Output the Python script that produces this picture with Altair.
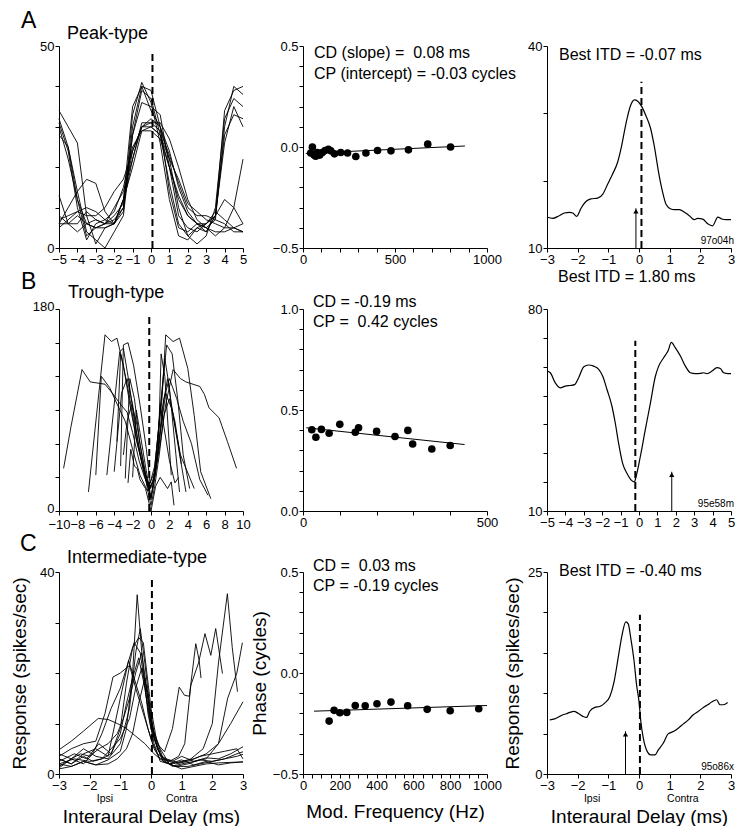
import altair as alt
import pandas as pd

FONT = "Liberation Sans"
W = 184
H = 202

# ---------------- Panel A : peak-type ----------------
A_LEFT_X = [-5.0, -4.5, -4.0, -3.5, -3.0, -2.5, -2.0, -1.5, -1.0, -0.5, 0.0,
            0.5, 1.0, 1.5, 2.0, 2.5, 3.0, 3.5, 4.0, 4.5, 5.0]
A_LEFT_CURVES = [
    [32, 25, 12, 3, 5, 6, 7, 10, 30, 40, 39, 30, 14, 5, 4, 6, 5, 7, 30, 40, 38],
    [31, 24, 10, 2, 6, 7, 6, 9, 33, 41, 36, 26, 12, 3, 2, 5, 6, 8, 34, 39, 40],
    [34, 30, 26, 8, 1, 5, 6, 12, 35, 40, 34, 30, 22, 10, 3, 1, 3, 10, 32, 37, 35],
    [28, 25, 14, 4, 2, 0, 4, 8, 28, 39, 37, 28, 16, 6, 3, 5, 4, 8, 28, 33, 32],
    [30, 22, 12, 6, 5, 6, 6, 10, 28, 36, 35, 33, 20, 8, 5, 4, 6, 8, 26, 35, 30],
    [7, 8, 9, 8, 8, 10, 14, 17, 24, 30, 30, 28, 22, 17, 11, 9, 7, 6, 5, 5, 6],
    [6, 6, 6, 9, 7, 6, 10, 14, 22, 31, 31, 29, 23, 16, 10, 8, 8, 7, 6, 4, 4],
    [8, 6, 8, 6, 5, 5, 6, 12, 24, 30, 32, 30, 24, 15, 9, 6, 6, 9, 7, 5, 4],
    [5, 7, 9, 10, 9, 7, 9, 15, 25, 29, 29, 27, 20, 13, 8, 6, 4, 8, 12, 10, 6],
    [13, 6, 4, 6, 7, 6, 8, 11, 22, 30, 31, 31, 27, 20, 12, 7, 5, 3, 5, 10, 22],
    [6, 10, 14, 17, 16, 9, 6, 12, 20, 29, 30, 28, 20, 12, 8, 6, 5, 4, 4, 5, 4],
]
A_MID_FREQ = [42, 51, 60, 69, 78, 91, 105, 120, 138, 151, 171, 205, 242, 287,
              342, 405, 478, 573, 678, 802]
A_MID_PHASE = [-0.03, 0.0, -0.04, -0.046, -0.027, -0.04, -0.027, -0.017, -0.011,
               -0.019, -0.034, -0.027, -0.03, -0.047, -0.03, -0.017, -0.019,
               -0.014, 0.014, 0.0]
A_FIT_FREQ = [15, 880]
A_FIT_PHASE = [-0.032, 0.005]
A_RIGHT_X = [-3.0, -2.82, -2.6, -2.43, -2.27, -2.16, -2.03, -1.89, -1.73, -1.57,
             -1.35, -1.18, -1.02, -0.86, -0.7, -0.57, -0.42, -0.28, -0.15, -0.04,
             0.09, 0.23, 0.37, 0.5, 0.64, 0.77, 0.88, 1.04, 1.15, 1.32, 1.48,
             1.64, 1.8, 1.91, 2.08, 2.24, 2.4, 2.57, 2.7, 2.84, 3.0]
A_RIGHT_Y = [14.6, 14.4, 14.8, 15.2, 15.3, 15.2, 14.7, 15.9, 16.9, 17.3, 17.4,
             18.0, 19.5, 21.0, 22.7, 25.1, 28.6, 31.1, 32.0, 31.8, 31.0, 29.6,
             27.9, 25.1, 21.2, 18.3, 16.5, 15.8, 15.7, 15.7, 15.3, 14.8, 14.2,
             14.4, 14.3, 13.6, 13.3, 14.6, 14.3, 14.2, 14.2]
A_CD = 0.08
A_BEST = -0.1

# ---------------- Panel B : trough-type ----------------
B_LEFT_X = [
    [-9.5, -8.7, -7.5, -6.6, -5.0, -4.2, -3.4, -2.6, -2.0, -1.3, -0.7, -0.1, 0.4,
     1.0, 1.6, 2.4, 3.2, 3.8, 5.3, 5.8, 6.3, 7.4, 8.3, 9.3],
    [-6.8, -5.0, -4.3, -3.7, -3.0, -2.3, -1.5, -0.8, -0.2, 0.4, 1.2, 1.6, 2.4,
     3.1, 4.0, 4.7, 5.4, 6.5],
    [-6.0, -5.4, -4.5, -3.5, -2.8, -2.0, -1.2, -0.4, 0.2, 0.9, 1.4, 2.0, 2.8,
     3.5, 4.4, 5.3, 6.2],
    [-4.8, -3.4, -3.0, -2.4, -1.8, -1.0, -0.3, 0.2, 0.8, 1.1, 1.5, 2.2],
    [-3.7, -3.3, -2.9, -2.3, -1.6, -0.8, -0.2, 0.3, 0.9, 1.5, 2.0, 3.1],
    [-4.0, -3.2, -2.6, -2.0, -1.4, -0.6, 0.0, 0.6, 1.2, 1.8, 2.5, 3.8],
    [-2.8, -2.3, -1.8, -1.2, -0.5, 0.0, 0.5, 1.0, 1.6, 2.3, 3.2, 4.7],
    [-3.0, -2.6, -2.1, -1.6, -1.0, -0.4, 0.0, 0.4, 0.9, 1.4, 2.0, 2.6, 3.3],
    [-2.5, -2.2, -1.8, -1.5, -1.2, -0.6, 0.0, 0.5, 1.0, 1.4, 1.8, 2.2, 2.5],
    [-2.0, -1.6, -1.2, -0.6, 0.0, 0.6, 1.0, 1.4, 2.0, 2.6, 3.0],
    [-3.3, -3.0, -2.5, -1.9, -1.2, -0.5, -0.1, 0.4, 1.0, 1.7, 2.3, 2.9, 3.5, 4.2],
]
B_LEFT_Y = [
    [38, 75, 126, 115, 113, 105, 96, 88, 70, 45, 30, 20, 30, 60, 95, 126, 118,
     115, 111, 104, 92, 83, 62, 38],
    [17, 157, 151, 154, 130, 95, 60, 38, 22, 40, 100, 157, 151, 154, 127, 85, 35, 11],
    [32, 120, 110, 92, 80, 55, 32, 18, 25, 60, 100, 118, 100, 80, 60, 28, 14],
    [32, 142, 145, 115, 80, 44, 25, 20, 55, 140, 120, 32],
    [62, 140, 125, 100, 65, 35, 18, 30, 80, 136, 110, 17],
    [35, 105, 118, 95, 60, 28, 12, 40, 90, 118, 80, 17],
    [29, 118, 100, 60, 30, 10, 35, 70, 105, 90, 50, 20],
    [50, 80, 95, 80, 50, 20, 5, 22, 50, 85, 100, 80, 42],
    [25, 55, 40, 38, 28, 20, 0, 22, 30, 25, 20, 26, 5],
    [30, 90, 70, 40, 12, 45, 95, 75, 45, 25, 30],
    [40, 148, 150, 130, 95, 55, 25, 35, 90, 148, 140, 100, 50, 20],
]
B_MID_FREQ = [24, 35, 50, 71, 100, 142, 151, 200, 250, 285, 298, 350, 400]
B_MID_PHASE = [0.402, 0.365, 0.404, 0.385, 0.429, 0.39, 0.412, 0.394, 0.369,
               0.399, 0.332, 0.307, 0.324]
B_FIT_FREQ = [9, 439]
B_FIT_PHASE = [0.412, 0.329]
B_RIGHT_X = [-5.0, -4.82, -4.55, -4.28, -4.0, -3.73, -3.5, -3.28, -3.0, -2.74,
             -2.46, -2.19, -1.97, -1.74, -1.47, -1.29, -1.11, -0.89, -0.65, -0.42,
             -0.25, -0.16, 0.07, 0.34, 0.62, 0.89, 1.07, 1.34, 1.58, 1.76, 1.97,
             2.25, 2.52, 2.79, 3.06, 3.33, 3.51, 3.7, 3.97, 4.24, 4.42, 4.6,
             4.84, 5.0]
B_RIGHT_Y = [58.5, 57.9, 54.4, 52.7, 53.3, 53.5, 53.8, 56.2, 60.0, 60.6, 60.2,
             59.1, 56.7, 52.1, 46.3, 40.5, 33.5, 26.5, 23.0, 20.7, 20.1, 21.9,
             28.8, 38.1, 47.4, 56.7, 60.2, 63.1, 65.5, 68.4, 66.6, 63.7, 60.2,
             57.9, 57.6, 57.7, 57.9, 57.6, 58.5, 59.7, 59.4, 57.9, 57.6, 57.6]
B_CD = -0.19
B_BEST = 1.78

# ---------------- Panel C : intermediate-type ----------------
C_LEFT_X = [
    [-3, -2.6, -2.2, -1.8, -1.4, -1.0, -0.8, -0.6, -0.45, -0.3, -0.1, 0.1, 0.3,
     0.6, 1.0, 1.4, 1.8, 2.2, 2.6, 3.0],
    [-3, -2.6, -2.2, -1.8, -1.4, -1.0, -0.7, -0.5, -0.35, -0.2, 0, 0.2, 0.4, 0.7,
     1.0, 1.4, 1.8, 2.2, 2.6, 3.0],
    [-3, -2.5, -2.1, -1.7, -1.3, -1.0, -0.8, -0.6, -0.4, -0.25, 0, 0.2, 0.44,
     0.7, 0.92, 1.09, 1.25, 1.46, 1.57, 1.63],
    [-3, -2.6, -2.2, -1.8, -1.4, -1.0, -0.73, -0.5, -0.3, -0.1, 0.1, 0.3, 0.6,
     0.9, 1.1, 1.3, 1.55, 1.76, 1.95, 2.11, 2.33],
    [-3, -2.6, -2.2, -1.8, -1.5, -1.24, -1.0, -0.7, -0.45, -0.2, 0.0, 0.2, 0.5,
     0.9, 1.3, 1.7, 2.0, 2.2, 2.49, 2.65, 2.82],
    [-3, -2.6, -2.2, -1.9, -1.6, -1.3, -1.0, -0.75, -0.55, -0.35, -0.15, 0.1,
     0.35, 0.7, 1.0, 1.4, 1.8, 2.2, 2.5, 2.8, 2.98],
    [-3, -2.5, -2, -1.6, -1.3, -1.0, -0.8, -0.6, -0.4, -0.2, 0, 0.3, 0.6, 1.0,
     1.4, 1.8, 2.2, 2.6, 3.0],
    [-3, -2.6, -2.2, -1.72, -1.4, -1.1, -0.8, -0.5, -0.2, 0.1, 0.4, 0.8, 1.2,
     1.6, 2.0, 2.4, 2.8, 3.0],
    [-3, -2.6, -2.3, -2.0, -1.7, -1.4, -1.1, -0.9, -0.7, -0.5, -0.3, -0.1, 0.1,
     0.4, 0.8, 1.2, 1.6, 2.0, 2.4, 2.8, 3.0],
    [-3, -2.6, -2.2, -1.9, -1.6, -1.3, -1.0, -0.7, -0.5, -0.3, -0.1, 0.1, 0.4,
     0.8, 1.2, 1.6, 2.0, 2.4, 2.8, 3.0],
    [-3, -2.6, -2.2, -1.8, -1.4, -1.1, -0.8, -0.6, -0.4, -0.2, 0, 0.3, 0.6, 1.0,
     1.4, 1.8, 2.2, 2.6, 3.0],
]
C_LEFT_Y = [
    [2, 1.5, 2.5, 1.8, 2.8, 4.5, 9, 20, 35.5, 24, 12, 6, 2.5, 2, 2.8, 1.8, 2.5,
     1.8, 2.2, 2.4],
    [4, 3, 5, 3.5, 3, 6, 13, 24, 28.8, 22, 11, 5, 3, 2.5, 3.5, 2.5, 3.2, 3, 4, 5.4],
    [2.5, 4, 3, 6, 4, 9, 18, 25, 27, 26, 13, 6, 4.4, 9, 17.2, 15.6, 15.4, 25.8,
     22.5, 19],
    [3, 2, 4, 5, 3.5, 15, 22.5, 18, 14, 9, 5, 3, 2.5, 3.5, 6, 17.6, 22, 27.8,
     23.5, 28.8, 19.9],
    [3.5, 5, 6, 6.5, 12, 19.2, 20, 21.5, 16, 11, 7, 4, 3, 2.2, 3, 5, 10, 22,
     35.7, 25, 16.3],
    [1.5, 3, 2, 4, 8, 13, 17, 22, 26, 24, 15, 7, 3, 1.5, 2, 2.5, 3, 6, 15, 20, 26],
    [2, 3, 2.5, 3, 4, 8, 14, 19, 23, 17, 9, 4, 2, 2.5, 3, 4, 6, 10, 14.3],
    [4.8, 6.5, 8.5, 11, 10.8, 10, 9, 7.5, 6, 4, 2.5, 1.5, 1.5, 2, 2.5, 3, 4, 4.4],
    [1.2, 3, 4, 3.5, 5, 6, 8, 11, 15, 20, 24, 15, 7, 2.5, 1.5, 2.0, 2.8, 2.5, 3,
     3.5, 3.9],
    [3, 2, 3.5, 2.5, 3, 5, 7, 11, 17, 21, 16, 8, 3, 2, 2.5, 3.5, 4, 4.5, 5, 3],
    [1, 1.5, 2.5, 1.8, 2, 3, 5, 8, 14, 19, 10, 5, 2, 1, 1.5, 2, 2.2, 2.3, 2.4],
]
C_MID_FREQ = [142, 169, 200, 238, 284, 338, 402, 478, 569, 675, 800, 955]
C_MID_PHASE = [-0.238, -0.185, -0.197, -0.195, -0.161, -0.162, -0.152, -0.144,
               -0.162, -0.18, -0.187, -0.177]
C_FIT_FREQ = [60, 1000]
C_FIT_PHASE = [-0.189, -0.161]
C_RIGHT_X = [-2.91, -2.75, -2.59, -2.48, -2.37, -2.26, -2.12, -1.99, -1.82, -1.71,
             -1.61, -1.44, -1.28, -1.12, -0.95, -0.81, -0.68, -0.55, -0.43, -0.35,
             -0.27, -0.16, -0.08, 0.0, 0.06, 0.14, 0.27, 0.38, 0.52, 0.63, 0.79,
             0.95, 1.12, 1.28, 1.44, 1.61, 1.77, 1.93, 2.1, 2.24, 2.37, 2.53,
             2.64, 2.75, 2.89]
C_RIGHT_Y = [6.7, 6.83, 7.12, 7.33, 7.45, 7.62, 7.74, 7.53, 7.12, 7.0, 7.74, 8.24,
             8.36, 8.77, 9.6, 11.47, 14.36, 17.26, 18.83, 18.58, 16.85, 13.95,
             11.05, 8.98, 6.5, 4.43, 2.77, 2.36, 2.36, 2.98, 3.81, 4.97, 5.26,
             5.67, 6.17, 6.7, 7.33, 7.74, 8.24, 8.57, 8.9, 9.19, 8.57, 8.57, 8.86]
C_CD = 0.03
C_BEST = -0.44

DUMMY = pd.DataFrame({"d": [0]})
NB = "\u00a0"


# ---------------- helpers ----------------
def lin(domain):
    return alt.Scale(domain=domain, nice=False, zero=False)


def steps(lo, hi, step):
    n = int(round((hi - lo) / step))
    return [round(lo + i * step, 4) for i in range(n + 1)]


def make_axis(values, expr=None, fmt=None, title=None, title_pad=None, **extra):
    kw = dict(values=values, title=title)
    if expr is not None:
        kw["labelExpr"] = expr
    if fmt is not None:
        kw["format"] = fmt
    if title_pad is not None:
        kw["titlePadding"] = title_pad
    kw.update(extra)
    return alt.Axis(**kw)


INT_EXPR = "datum.value % 1 == 0 ? datum.label : ''"


def ends_expr(vals):
    cond = " || ".join(f"datum.value == {v}" for v in vals)
    return f"{cond} ? datum.label : ''"


class Frame:
    """Shared scales and axes of one panel."""

    def __init__(self, xdom, ydom, xaxis, yaxis):
        self.xs = lin(xdom)
        self.ys = lin(ydom)
        self.xa = xaxis
        self.ya = yaxis

    def X(self, field="x"):
        return alt.X(f"{field}:Q", scale=self.xs, axis=self.xa)

    def Y(self, field="y"):
        return alt.Y(f"{field}:Q", scale=self.ys, axis=self.ya)


def spaghetti(f, xs_list, ys_list):
    rows = []
    for i, (xs, ys) in enumerate(zip(xs_list, ys_list)):
        for xv, yv in zip(xs, ys):
            rows.append({"x": xv, "y": yv, "id": i})
    df = pd.DataFrame(rows)
    return alt.Chart(df).mark_line(color="black", strokeWidth=0.9).encode(
        x=f.X(), y=f.Y(), detail="id:N")


def curve(f, xs, ys):
    df = pd.DataFrame({"x": xs, "y": ys})
    return alt.Chart(df).mark_line(color="black", strokeWidth=1.2,
                                   interpolate="monotone").encode(x=f.X(), y=f.Y())


def dashed(f, xv, lo, hi):
    df = pd.DataFrame({"x": [xv], "y": [lo], "y2": [hi]})
    return alt.Chart(df).mark_rule(color="black", strokeWidth=2,
                                   strokeDash=[7, 4]).encode(
        x=f.X(), y=f.Y(), y2=alt.Y2("y2"))


def arrow(f, xv, lo, hi):
    df = pd.DataFrame({"x": [xv], "y": [lo], "y2": [hi]})
    shaft = alt.Chart(df).mark_rule(color="black", strokeWidth=1).encode(
        x=f.X(), y=f.Y(), y2=alt.Y2("y2"))
    head = alt.Chart(df).mark_point(shape="triangle-up", filled=True, size=28,
                                    color="black", opacity=1, yOffset=3).encode(
        x=f.X(), y=f.Y("y2"))
    return [shaft, head]


def scatter(f, freq, phase, fit_f, fit_p):
    pts = alt.Chart(pd.DataFrame({"x": freq, "y": phase})).mark_circle(
        color="black", size=58, opacity=1).encode(x=f.X(), y=f.Y())
    fit = alt.Chart(pd.DataFrame({"x": fit_f, "y": fit_p})).mark_line(
        color="black", strokeWidth=1).encode(x=f.X(), y=f.Y())
    return [fit, pts]


def label(text, px, py, size, align="left", baseline="alphabetic"):
    return alt.Chart(DUMMY).mark_text(
        text=text, fontSize=size, font=FONT, align=align, baseline=baseline,
        color="black").encode(x=alt.value(px), y=alt.value(py))


def data_label(f, text, xv, py, size):
    return alt.Chart(pd.DataFrame({"x": [xv]})).mark_text(
        text=text, fontSize=size, font=FONT, align="center",
        baseline="alphabetic", color="black").encode(x=f.X(), y=alt.value(py))


def panel(layers):
    return alt.layer(*layers).properties(width=W, height=H)


PHASE_EXPR = ("abs(datum.value) == 0.5 || datum.value == 0 ? "
              "format(datum.value, '.1f') : ''")

# ---------------- row A ----------------
f = Frame([-5, 5], [0, 50], make_axis(steps(-5, 5, 1), fmt="d"),
          make_axis(steps(0, 50, 10), ends_expr([0, 50])))
a_left = panel([
    spaghetti(f, [A_LEFT_X] * len(A_LEFT_CURVES), A_LEFT_CURVES),
    dashed(f, A_CD, 0, 48),
    label("A", -38, -36, 23, baseline="top"),
    label("Peak-type", 8, -7, 18),
])

f = Frame([0, 1000], [-0.5, 0.5],
          make_axis(steps(0, 1000, 100),
                    "datum.value % 500 == 0 ? datum.label : ''", "d"),
          make_axis(steps(-0.5, 0.5, 0.1), PHASE_EXPR))
a_mid = panel(scatter(f, A_MID_FREQ, A_MID_PHASE, A_FIT_FREQ, A_FIT_PHASE) + [
    label(f"CD (slope) ={NB} 0.08 ms", 11, 12, 16),
    label("CP (intercept) = -0.03 cycles", 11, 33, 16),
])

f = Frame([-3, 3], [10, 40], make_axis(steps(-3, 3, 0.25), INT_EXPR, "d"),
          make_axis(steps(10, 40, 10), ends_expr([10, 40])))
a_right = panel([
    curve(f, A_RIGHT_X, A_RIGHT_Y),
    dashed(f, A_CD, 10, 34.7),
] + arrow(f, A_BEST, 10, 15.9) + [
    label("Best ITD = -0.07 ms", 12, 14, 16),
    label("97o04h", W + 3, H - 4, 10, align="right"),
])

# ---------------- row B ----------------
f = Frame([-10, 10], [0, 180],
          make_axis(steps(-10, 10, 2), fmt="d", labelPadding=3),
          make_axis(steps(0, 180, 30), ends_expr([0, 180]), labelOffset=-3))
b_left = panel([
    spaghetti(f, B_LEFT_X, B_LEFT_Y),
    dashed(f, B_CD, 0, 173.7),
    label("B", -38, -38, 23, baseline="top"),
    label("Trough-type", 9, -11, 18),
])

f = Frame([0, 500], [0, 1],
          make_axis(steps(0, 500, 100),
                    "datum.value % 500 == 0 ? datum.label : ''", "d"),
          make_axis(steps(0, 1, 0.1),
                    "datum.value == 0 || datum.value == 0.5 || datum.value == 1"
                    " ? format(datum.value, '.1f') : ''"))
b_mid = panel(scatter(f, B_MID_FREQ, B_MID_PHASE, B_FIT_FREQ, B_FIT_PHASE) + [
    label("CD = -0.19 ms", 10, -2, 16),
    label(f"CP ={NB} 0.42 cycles", 10, 18, 16),
])

f = Frame([-5, 5], [10, 80], make_axis(steps(-5, 5, 0.5), INT_EXPR, "d"),
          make_axis(steps(10, 80, 10), ends_expr([10, 80])))
b_right = panel([
    curve(f, B_RIGHT_X, B_RIGHT_Y),
    dashed(f, -0.2, 10, 69),
] + arrow(f, B_BEST, 10, 23.6) + [
    label("Best ITD = 1.80 ms", 11, -27, 16),
    label("95e58m", W + 3, H - 4, 10, align="right"),
])

# ---------------- row C ----------------
f = Frame([-3, 3], [0, 40],
          make_axis(steps(-3, 3, 0.25), INT_EXPR, "d",
                    title="Interaural Delay (ms)", title_pad=15),
          make_axis(steps(0, 40, 10), ends_expr([0, 40]),
                    title="Response (spikes/sec)", title_pad=10))
c_left = panel([
    spaghetti(f, C_LEFT_X, C_LEFT_Y),
    dashed(f, C_CD, 0, 38.6),
    label("C", -39, -39, 23, baseline="top"),
    label("Intermediate-type", 8, -9, 18),
    data_label(f, "Ipsi", -1.5, H + 28, 10.5),
    data_label(f, "Contra", 1.0, H + 28, 10.5),
])

f = Frame([0, 1000], [-0.5, 0.5],
          make_axis(steps(0, 1000, 50),
                    "datum.value % 200 == 0 ? datum.label : ''", "d",
                    title="Mod. Frequency (Hz)", title_pad=10),
          make_axis(steps(-0.5, 0.5, 0.1), PHASE_EXPR,
                    title="Phase (cycles)", title_pad=3))
c_mid = panel(scatter(f, C_MID_FREQ, C_MID_PHASE, C_FIT_FREQ, C_FIT_PHASE) + [
    label(f"CD ={NB} 0.03 ms", 10, -1, 16),
    label("CP = -0.19 cycles", 10, 19, 16),
])

f = Frame([-3, 3], [0, 25],
          make_axis(steps(-3, 3, 0.25), INT_EXPR, "d",
                    title="Interaural Delay (ms)", title_pad=15),
          make_axis(steps(0, 25, 5), ends_expr([0, 25]),
                    title="Response (spikes/sec)", title_pad=5))
c_right = panel([
    curve(f, C_RIGHT_X, C_RIGHT_Y),
    dashed(f, C_CD, 0, 19.7),
] + arrow(f, C_BEST, 0, 5.3) + [
    label("Best ITD = -0.40 ms", 12, 4, 16),
    label("95o86x", W + 3, H - 4, 10, align="right"),
    data_label(f, "Ipsi", -1.53, H + 28, 10.5),
    data_label(f, "Contra", 1.43, H + 28, 10.5),
])

chart = alt.concat(
    a_left, a_mid, a_right,
    b_left, b_mid, b_right,
    c_left, c_mid, c_right,
    columns=3,
    spacing={"row": 61, "column": 60},
    bounds="flush",
).properties(
    padding={"left": 2, "top": 2, "right": 0, "bottom": 0},
    background="white",
).configure_view(
    stroke=None
).configure_axis(
    domainColor="black", tickColor="black", labelColor="black",
    titleColor="black", labelFont=FONT, titleFont=FONT, labelFontSize=13,
    titleFontSize=19, titleFontWeight="normal", tickSize=4, labelPadding=1,
    grid=False, labelFlush=False, labelOverlap=False, domainWidth=1,
    tickWidth=1,
)

chart.save("out.html", embed_options={"renderer": "svg", "actions": False})
